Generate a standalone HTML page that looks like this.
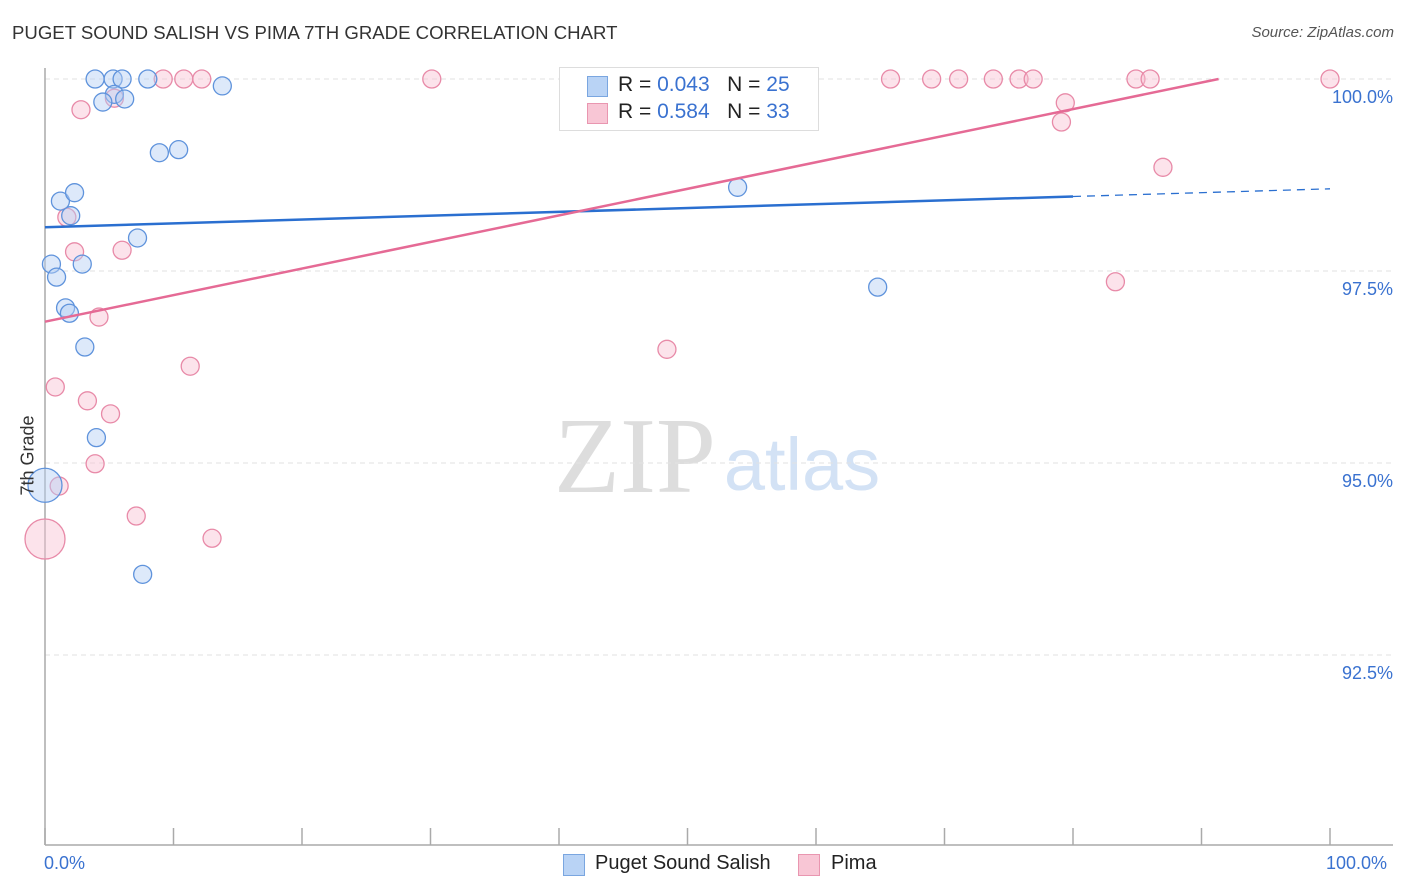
<!DOCTYPE html>
<html><head><meta charset="utf-8">
<style>
body{margin:0;background:#fff;font-family:"Liberation Sans",sans-serif;}
#wrap{position:relative;width:1406px;height:892px;overflow:hidden;}
.t{position:absolute;white-space:nowrap;}
</style></head>
<body>
<div id="wrap">
<div class="t" style="left:12px;top:22px;font-size:18.6px;color:#333;">PUGET SOUND SALISH VS PIMA 7TH GRADE CORRELATION CHART</div>
<div class="t" style="right:12px;top:24px;font-size:15px;color:#555;font-style:italic;">Source: ZipAtlas.com</div>
<svg id="svg" width="1406" height="892" style="position:absolute;left:0;top:0;">
<text x="635" y="492" font-family="Liberation Serif,serif" font-size="108" fill="#ddd" text-anchor="middle">ZIP</text>
<text x="802" y="490" font-family="Liberation Sans,sans-serif" font-size="74" fill="#d3e2f5" text-anchor="middle">atlas</text>
</svg>
<div style="position:absolute;left:559px;top:67px;width:258px;height:62px;border:1px solid #ddd;background:#fff;">
 <div style="position:absolute;left:27px;top:8px;width:19px;height:19px;background:#b9d3f5;border:1px solid #7aa6e0;"></div>
 <div class="t" style="left:58px;top:5px;font-size:21px;color:#222;">R = <span style="color:#3a72d0">0.043</span>&nbsp;&nbsp;&nbsp;N = <span style="color:#3a72d0">25</span></div>
 <div style="position:absolute;left:27px;top:35px;width:19px;height:19px;background:#f8c6d5;border:1px solid #e996b0;"></div>
 <div class="t" style="left:58px;top:32px;font-size:21px;color:#222;">R = <span style="color:#3a72d0">0.584</span>&nbsp;&nbsp;&nbsp;N = <span style="color:#3a72d0">33</span></div>
</div>
<div class="t" style="left:44px;top:853px;font-size:18px;color:#3a72d0;">0.0%</div>
<div class="t" style="left:1326px;top:853px;font-size:18px;color:#3a72d0;">100.0%</div>
<div class="t" style="left:-12px;top:445px;font-size:18px;color:#333;transform:rotate(-90deg);">7th Grade</div>
<div style="position:absolute;left:563px;top:854px;width:20px;height:20px;background:#b9d3f5;border:1px solid #7aa6e0;"></div>
<div class="t" style="left:595px;top:852px;font-size:20px;color:#222;">Puget Sound Salish</div>
<div style="position:absolute;left:798px;top:854px;width:20px;height:20px;background:#f8c6d5;border:1px solid #e996b0;"></div>
<div class="t" style="left:831px;top:852px;font-size:20px;color:#222;">Pima</div>
</div>
<script>
const yTicks=[100,97.5,95,92.5];
const yTickLabels=["100.0%","97.5%","95.0%","92.5%"];
const xTicks=[0,10,20,30,40,50,60,70,80,90,100];
const blueX=[3.9,5.3,6.0,8.0,13.8,5.4,4.5,6.2,8.9,10.4,1.2,2.3,2.0,7.2,0.5,0.9,2.9,1.6,1.9,3.1,4.0,0,7.6,53.9,64.8];
const blueY=[100,100,100,100,99.91,99.80,99.70,99.74,99.04,99.08,98.41,98.52,98.22,97.93,97.59,97.42,97.59,97.02,96.95,96.51,95.33,94.71,93.55,98.59,97.29];
const blueR=[9,9,9,9,9,9,9,9,9,9,9,9,9,9,9,9,9,9,9,9,9,17,9,9,9];
const pinkX=[2.8,5.4,9.2,10.8,12.2,30.1,65.8,69.0,71.1,73.8,75.8,76.9,84.9,86.0,100,79.4,79.1,87.0,83.3,1.7,2.3,6.0,4.2,11.3,48.4,0.8,3.3,5.1,3.9,1.1,7.1,13.0,0];
const pinkY=[99.60,99.75,100,100,100,100,100,100,100,100,100,100,100,100,100,99.69,99.44,98.85,97.36,98.20,97.75,97.77,96.90,96.26,96.48,95.99,95.81,95.64,94.99,94.70,94.31,94.02,94.01];
const pinkR=[9,9,9,9,9,9,9,9,9,9,9,9,9,9,9,9,9,9,9,9,9,9,9,9,9,9,9,9,9,9,9,9,20];
const blueTrend=[98.07,98.57];
const pinkTrend=[96.84,100.30];
const X=v=>45+v*12.85, Y=v=>79+(100-v)*76.8;
const svg=document.getElementById('svg'),NS='http://www.w3.org/2000/svg';
function mk(t,a){const e=document.createElementNS(NS,t);for(const k in a)e.setAttribute(k,a[k]);svg.appendChild(e);return e;}
yTicks.forEach((v,i)=>{
 const g=mk('line',{x1:45,x2:1393,y1:Y(v),y2:Y(v),stroke:'#e2e2e2','stroke-dasharray':'5,4'});
 
 
 const t=mk('text',{x:1393,y:Y(v)+24,'text-anchor':'end','font-size':18,fill:'#3a72d0','font-family':'Liberation Sans,sans-serif'});
 t.textContent=yTickLabels[i];
 
 
});
const ax=mk('line',{x1:45,x2:45,y1:68,y2:845,stroke:'#aaa','stroke-width':1.5});


const bx=mk('line',{x1:45,x2:1393,y1:845,y2:845,stroke:'#aaa','stroke-width':1.5});


xTicks.forEach(v=>{const l=mk('line',{x1:X(v),x2:X(v),y1:828,y2:845,stroke:'#aaa','stroke-width':1.5});
 
 });
function pts(xs,ys,rs,fill,stroke,name){xs.forEach((x,i)=>{const c=mk('circle',{cx:X(x),cy:Y(ys[i]),r:rs[i],fill:fill,'fill-opacity':0.45,stroke:stroke,'stroke-width':1.3});
 
 });}
pts(pinkX,pinkY,pinkR,'#f8c0d2','#e88aa8','pima-point');
pts(blueX,blueY,blueR,'#b3cff3','#5f93dc','salish-point');
const by=x=>blueTrend[0]+(blueTrend[1]-blueTrend[0])*x/100;
const b1=mk('line',{x1:X(0),y1:Y(by(0)),x2:X(80),y2:Y(by(80)),stroke:'#2a6fd0','stroke-width':2.5});


const b2=mk('line',{x1:X(80),y1:Y(by(80)),x2:X(100),y2:Y(by(100)),stroke:'#2a6fd0','stroke-width':1.3,'stroke-dasharray':'8,6'});


const slope=(pinkTrend[1]-pinkTrend[0])/100;
let xEnd=Math.min(100,(100-pinkTrend[0])/slope);
const p1=mk('line',{x1:X(0),y1:Y(pinkTrend[0]),x2:X(xEnd),y2:Y(pinkTrend[0]+slope*xEnd),stroke:'#e56a95','stroke-width':2.5});


</script>
</body></html>
